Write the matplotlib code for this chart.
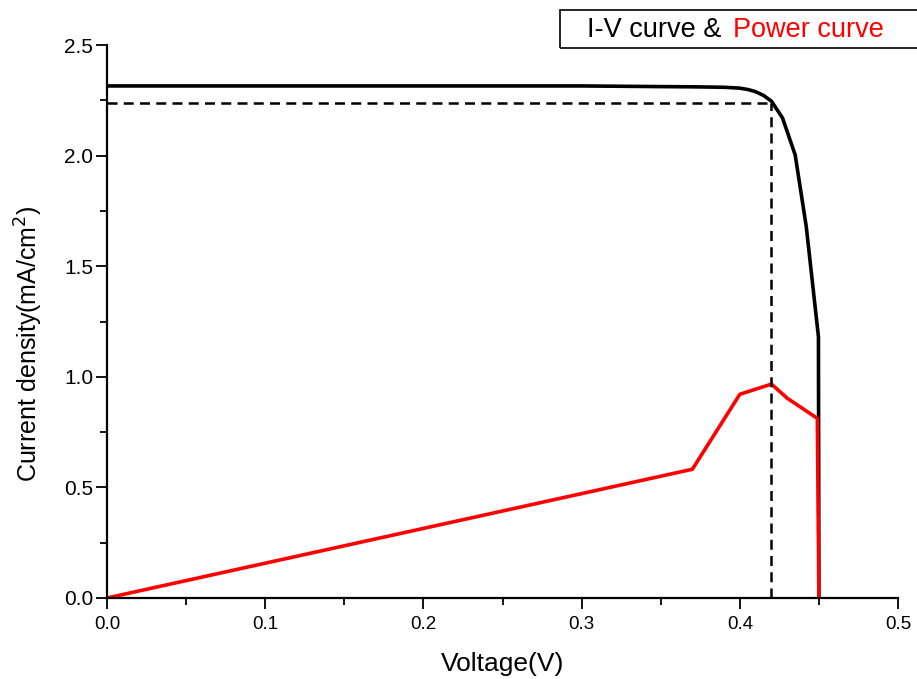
import matplotlib.pyplot as plt
from matplotlib.patches import Rectangle
from matplotlib.ticker import MultipleLocator

plt.rcParams['font.family'] = ['Liberation Sans', 'DejaVu Sans']

# I-V curve (voltage in V, current density in mA/cm2)
iv_v = [0.0, 0.10, 0.20, 0.30, 0.35, 0.37, 0.39, 0.40, 0.405, 0.41, 0.415, 0.42,
        0.427, 0.435, 0.442, 0.4497, 0.45]
iv_j = [2.315, 2.315, 2.315, 2.315, 2.312, 2.311, 2.309, 2.305, 2.299, 2.289, 2.272, 2.246,
        2.17, 2.003, 1.679, 1.181, 0.0]

# power curve
p_v = [0.0, 0.37, 0.40, 0.42, 0.43, 0.449, 0.45]
p_val = [0.0, 0.582, 0.921, 0.967, 0.903, 0.812, 0.0]

# maximum power point guide
vmp = 0.42
jmp = 2.238

fig = plt.figure(figsize=(9.17, 6.79), dpi=100)
ax = fig.add_axes([0.1167, 0.1193, 0.8626, 0.8144])

ax.plot(iv_v, iv_j, color='black', linewidth=2.6, solid_joinstyle='round')
ax.plot(p_v, p_val, color='red', linewidth=2.6, solid_joinstyle='round')
ax.plot([0, vmp], [jmp, jmp], color='black', linestyle=(0, (4, 2.5)), linewidth=1.8)
ax.plot([vmp, vmp], [0, jmp], color='black', linestyle=(0, (4, 2.5)), linewidth=1.8)

ax.set_xlim(0, 0.5)
ax.set_ylim(0, 2.5)
ax.xaxis.set_major_locator(MultipleLocator(0.1))
ax.xaxis.set_minor_locator(MultipleLocator(0.05))
ax.yaxis.set_major_locator(MultipleLocator(0.5))
ax.yaxis.set_minor_locator(MultipleLocator(0.25))
ax.xaxis.set_major_formatter(plt.FormatStrFormatter('%.1f'))
ax.yaxis.set_major_formatter(plt.FormatStrFormatter('%.1f'))

for s in ['top', 'right']:
    ax.spines[s].set_visible(False)
for s in ['left', 'bottom']:
    ax.spines[s].set_linewidth(1.6)

ax.tick_params(which='major', direction='out', length=8, width=1.3)
ax.tick_params(which='minor', direction='out', length=5, width=1.3)
ax.tick_params(axis='x', which='major', labelsize=13.5, pad=5)
ax.tick_params(axis='y', which='major', labelsize=15, pad=2)

ax.set_xlabel('Voltage(V)', fontsize=19, labelpad=14)
ax.set_ylabel('Current density(mA/cm$^2$)', fontsize=18)
ax.yaxis.set_label_coords(-0.079, 0.46)

# title box
fig.patches.append(Rectangle((0.6107, 0.9293), 0.45, 0.056, transform=fig.transFigure,
                             fill=False, edgecolor='black', linewidth=1.2))
fig.text(0.640, 0.956, 'I-V curve & ', fontsize=19.5, color='black', va='center', ha='left')
fig.text(0.7993, 0.956, 'Power curve', fontsize=19.5, color='red', va='center', ha='left')

fig.savefig('out.png', dpi=100)
